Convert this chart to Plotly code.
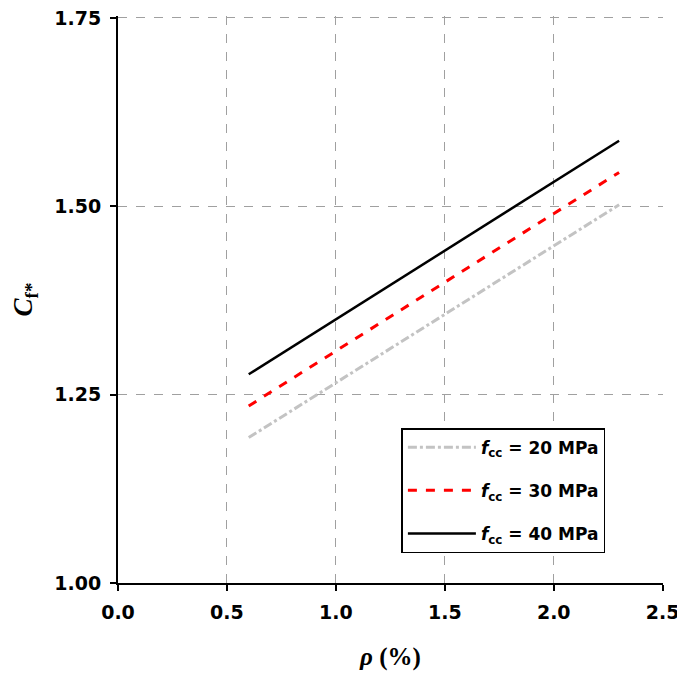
import plotly.graph_objects as go

rho = [0.6, 2.3]
cf_20 = [1.193, 1.502]
cf_30 = [1.235, 1.545]
cf_40 = [1.277, 1.587]
names = ["<i>f</i><sub>cc</sub> = 20 MPa", "<i>f</i><sub>cc</sub> = 30 MPa", "<i>f</i><sub>cc</sub> = 40 MPa"]
x_ticks = [0.0, 0.5, 1.0, 1.5, 2.0, 2.5]
y_ticks = [1.00, 1.25, 1.50, 1.75]

fig = go.Figure()
fig.add_trace(go.Scatter(x=rho, y=cf_20, mode="lines", name=names[0], legendgroup="a",
                         line=dict(color="#c3c3c3", width=3, dash="dashdot")))
fig.add_trace(go.Scatter(x=rho, y=cf_30, mode="lines", name=names[1], legendgroup="b",
                         line=dict(color="#ff0000", width=3, dash="dash")))
fig.add_trace(go.Scatter(x=rho, y=cf_40, mode="lines", name=names[2], legendgroup="c",
                         line=dict(color="#000000", width=2.5)))

tickfont = dict(family="DejaVu Sans", size=19, color="black", weight="bold")
fig.update_layout(
    width=685, height=676,
    margin=dict(l=110, r=30, t=8, b=101, autoexpand=False),
    plot_bgcolor="white", paper_bgcolor="white",
    showlegend=True,
    legend=dict(x=0.52, y=0.273, xanchor="left", yanchor="top",
                bordercolor="black", borderwidth=1.5, bgcolor="white",
                font=dict(family="DejaVu Sans", size=17, color="black", weight="bold"),
                tracegroupgap=18, itemwidth=68),
    xaxis=dict(range=[0, 2.5015], tickvals=x_ticks, ticktext=[f"{v:.1f}" for v in x_ticks],
               showline=True, linecolor="black", linewidth=2,
               ticks="outside", ticklen=6, tickwidth=2, tickcolor="black",
               showgrid=True, gridcolor="#a0a0a0", griddash="dash", gridwidth=1,
               zeroline=False, tickfont=tickfont, automargin=False, ticklabelstandoff=5,
               ticklabeloverflow="allow",
               title=dict(text="<b><i>ρ</i> (%)</b>", font=dict(family="Liberation Serif", size=25, color="black"),
                          standoff=26)),
    yaxis=dict(range=[1.0, 1.7526], tickvals=y_ticks, ticktext=[f"{v:.2f}" for v in y_ticks],
               showline=True, linecolor="black", linewidth=2,
               ticks="outside", ticklen=6, tickwidth=2, tickcolor="black",
               showgrid=True, gridcolor="#a0a0a0", griddash="dash", gridwidth=1,
               zeroline=False, tickfont=tickfont, automargin=False, ticklabelstandoff=5,
               ticklabeloverflow="allow",
               title=dict(text="<b><i>C</i><sub>f*</sub></b>", font=dict(family="Liberation Serif", size=27, color="black"),
                          standoff=22)),
)
fig.write_html("out.html")
